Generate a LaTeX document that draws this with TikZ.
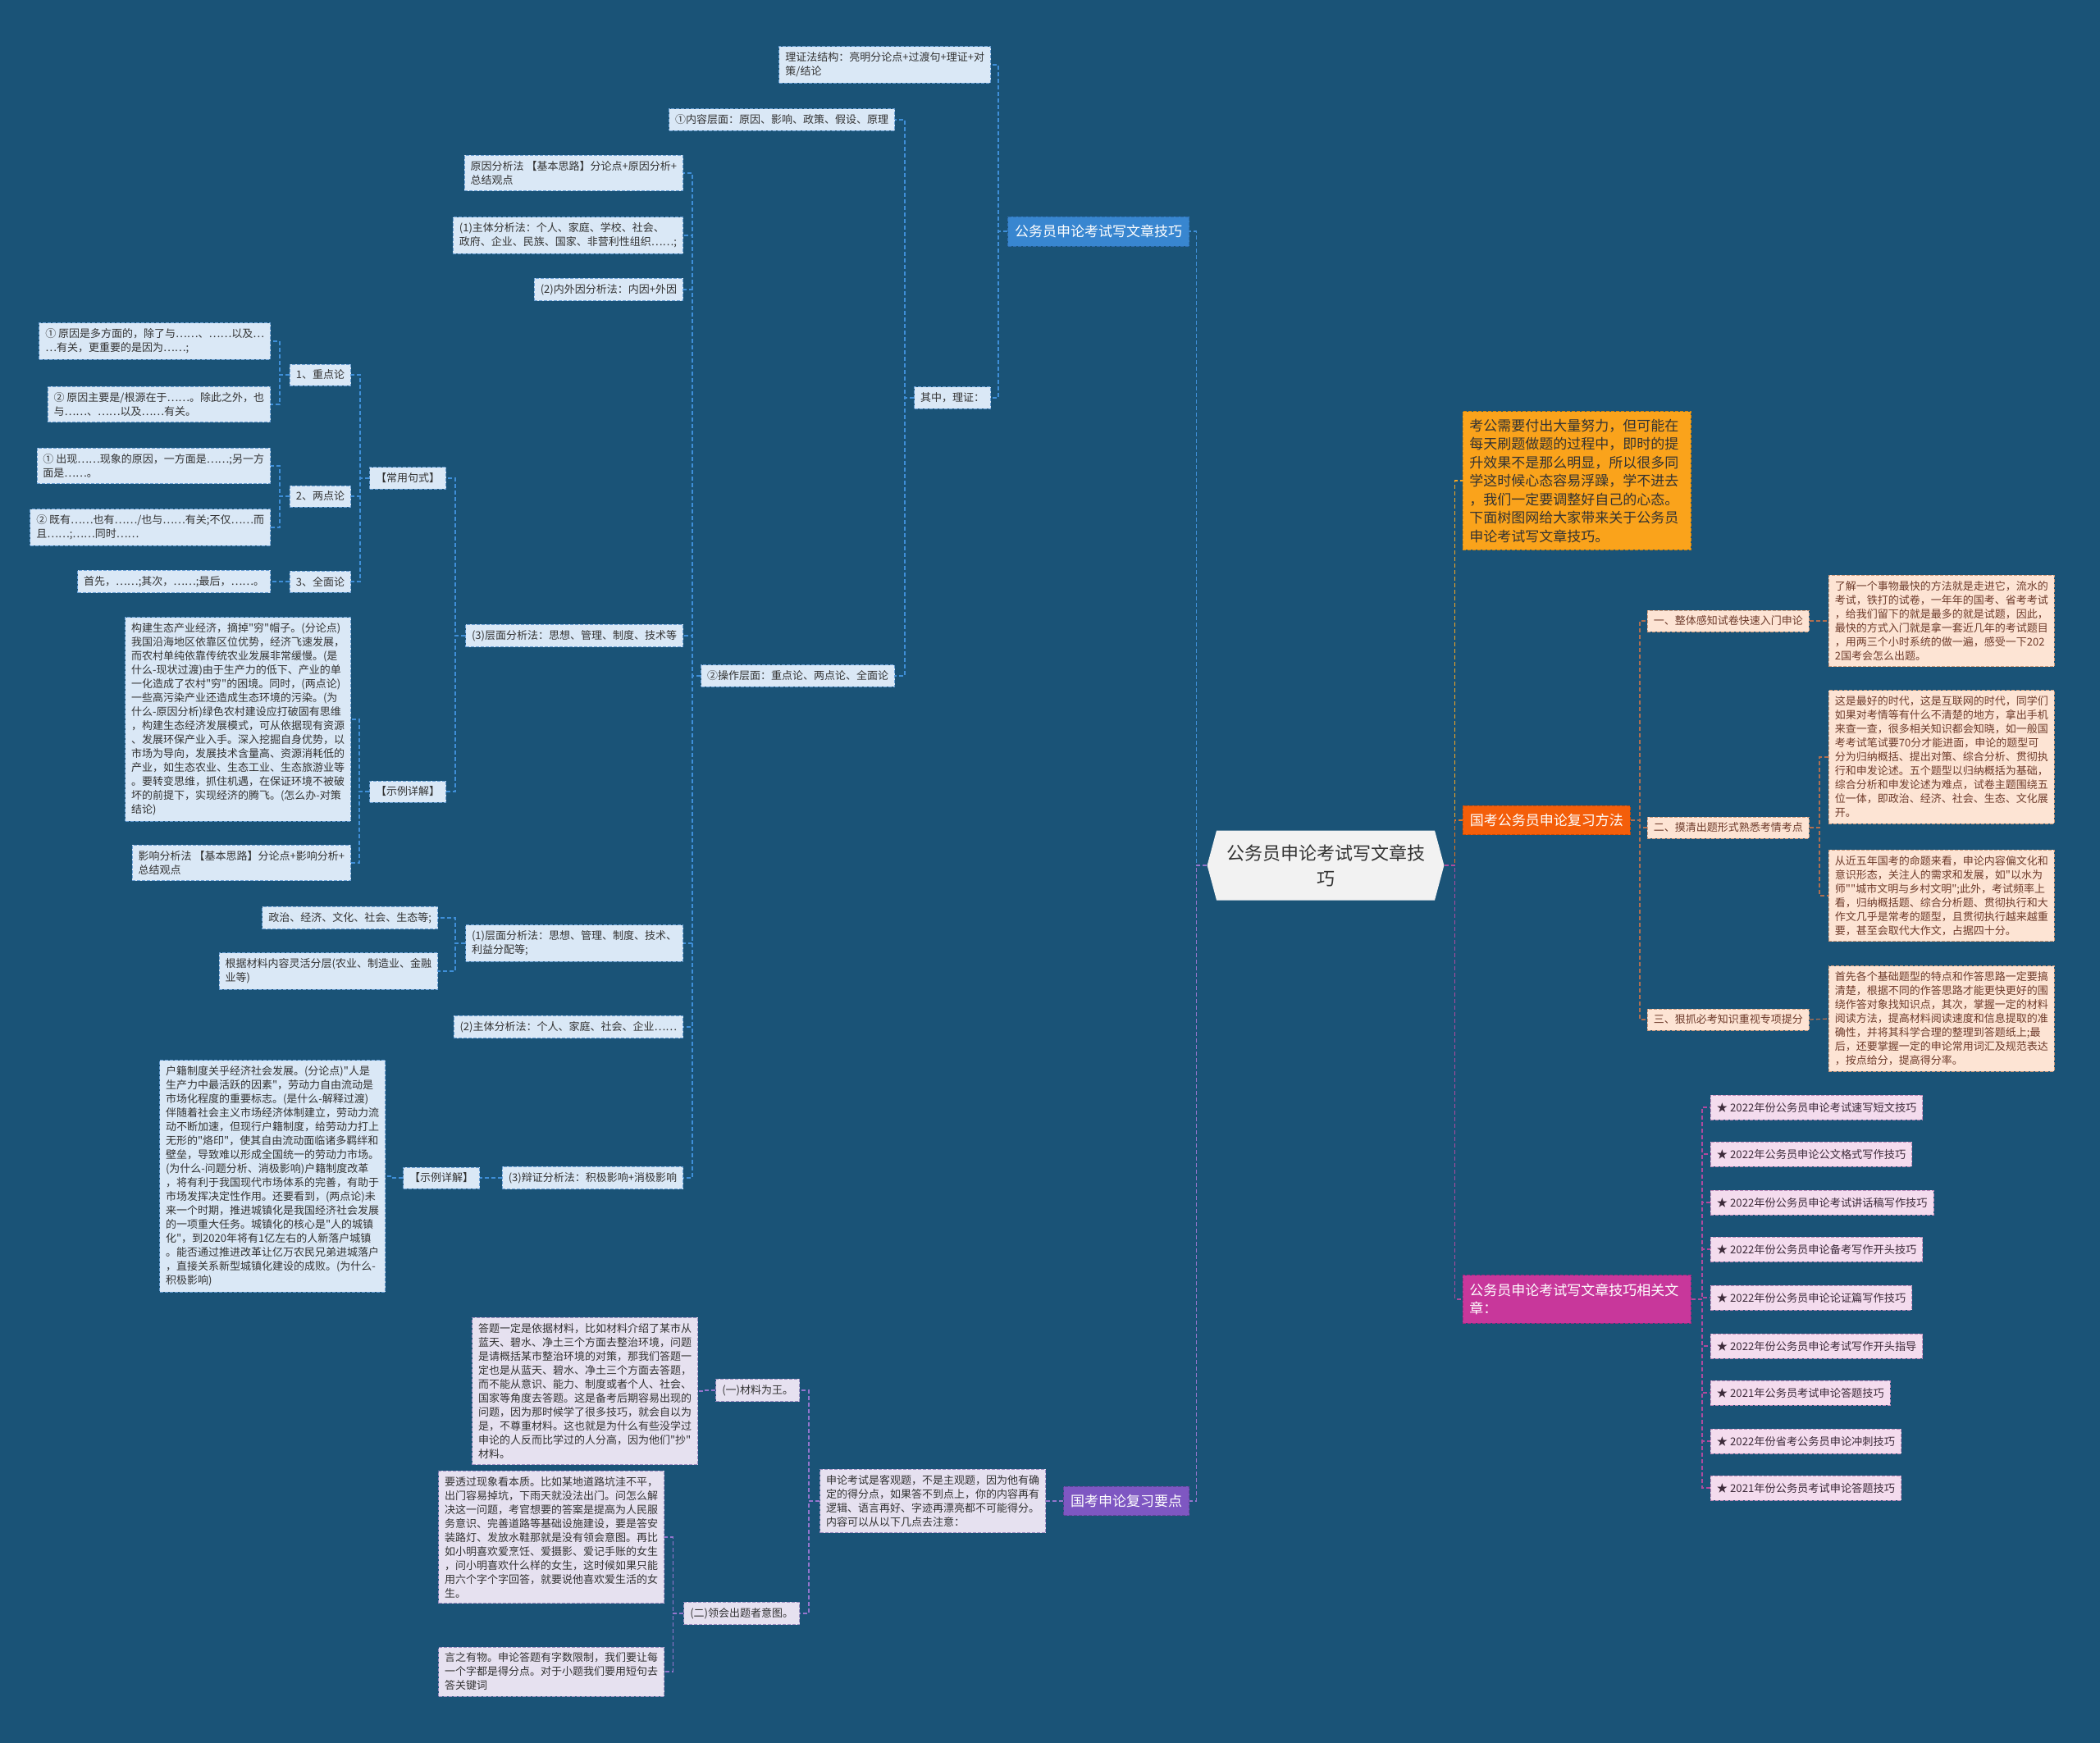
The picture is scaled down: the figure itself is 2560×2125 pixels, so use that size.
\documentclass[tikz,border=0pt]{standalone}
\usepackage{fontspec}
\setmainfont{Noto Sans CJK SC}[Ligatures=TeXOff]
\usetikzlibrary{shapes.symbols}
\definecolor{bgcol}{HTML}{1A5377}
\definecolor{lbFill}{HTML}{DAE8F6}
\definecolor{lbLine}{HTML}{6A9FD4}
\definecolor{txtDark}{HTML}{333333}
\definecolor{blueMain}{HTML}{3886D0}
\definecolor{blueMainLine}{HTML}{2E6DB0}
\definecolor{introFill}{HTML}{FAA31B}
\definecolor{introLine}{HTML}{D4860C}
\definecolor{orgFill}{HTML}{F45E0A}
\definecolor{orgLine}{HTML}{C84A05}
\definecolor{peachFill}{HTML}{FDE4D4}
\definecolor{peachLine}{HTML}{CF9A7A}
\definecolor{peachTxt}{HTML}{6E3B2B}
\definecolor{magFill}{HTML}{C8379B}
\definecolor{magLine}{HTML}{A02880}
\definecolor{pinkFill}{HTML}{F4DCEE}
\definecolor{pinkLine}{HTML}{C08AB8}
\definecolor{pinkTxt}{HTML}{3D2B3A}
\definecolor{purFill}{HTML}{7E57C2}
\definecolor{purLine}{HTML}{654499}
\definecolor{lavFill}{HTML}{E6E1F0}
\definecolor{lavLine}{HTML}{9C8CC0}
\definecolor{rootFill}{HTML}{F2F2F2}
\definecolor{lnBlue}{HTML}{3F8FD8}
\definecolor{lnYellow}{HTML}{F5A623}
\definecolor{lnOrange}{HTML}{E8741E}
\definecolor{lnBrown}{HTML}{B06E50}
\definecolor{lnMag}{HTML}{B04A9E}
\definecolor{lnPur}{HTML}{9575CD}
\begin{document}
\begin{tikzpicture}[x=1pt,y=-1pt,
  boxbase/.style={draw, dash pattern=on 4pt off 2pt, line width=0.9pt, align=left, inner xsep=7.5pt, inner ysep=7pt},
  lbox/.style={boxbase, fill=lbFill, draw=lbLine, text=txtDark, font=\fontsize{13}{17}\selectfont},
  pbox/.style={boxbase, fill=peachFill, draw=peachLine, text=peachTxt, font=\fontsize{13}{17}\selectfont},
  kbox/.style={boxbase, fill=pinkFill, draw=pinkLine, text=pinkTxt, font=\fontsize{13.2}{17}\selectfont, minimum height=30pt},
  vbox/.style={boxbase, fill=lavFill, draw=lavLine, text=txtDark, font=\fontsize{13}{17}\selectfont},
  bigbox/.style={boxbase, text=white, font=\fontsize{17}{22.5}\selectfont, inner xsep=8.5pt, inner ysep=10pt},
  rootnode/.style={shape=signal, signal to=west and east, signal pointer angle=150, fill=rootFill, text=txtDark, font=\fontsize{22}{31}\selectfont, align=center, minimum width=284pt, minimum height=85pt, inner xsep=12pt},
  conn/.style={dash pattern=on 5pt off 3pt, line width=1.3pt},
  cBlue/.style={conn, draw=lnBlue},
  cYellow/.style={conn, draw=lnYellow},
  cOrange/.style={conn, draw=lnOrange},
  cBrown/.style={conn, draw=lnBrown},
  cMag/.style={conn, draw=lnMag},
  cPur/.style={conn, draw=lnPur}
]
\fill[bgcol] (0,0) rectangle (2560,2125);
\useasboundingbox (0,0) rectangle (2560,2125);

% root
\node[rootnode] (root) at (1616,1055) {公务员申论考试写文章技\\巧};

% ===== left: blue branch =====
\node[bigbox, fill=blueMain, draw=blueMainLine, anchor=east] (blue) at (1450,282) {公务员申论考试写文章技巧};
\node[lbox, anchor=east] (lzjg) at (1208,79) {理证法结构：亮明分论点+过渡句+理证+对\\策/结论};
\node[lbox, anchor=east] (qz) at (1208,485) {其中，理证：};
\node[lbox, anchor=east] (nr) at (1091,146) {①内容层面：原因、影响、政策、假设、原理};
\node[lbox, anchor=east] (cz) at (1091,824) {②操作层面：重点论、两点论、全面论};
\node[lbox, anchor=east] (yyfx) at (833,211) {原因分析法 【基本思路】分论点+原因分析+\\总结观点};
\node[lbox, anchor=east] (zt1) at (833,287) {(1)主体分析法：个人、家庭、学校、社会、\\政府、企业、民族、国家、非营利性组织……;};
\node[lbox, anchor=east] (nwy) at (833,353) {(2)内外因分析法：内因+外因};
\node[lbox, anchor=east] (cm3) at (833,775) {(3)层面分析法：思想、管理、制度、技术等};
\node[lbox, anchor=east] (cm1) at (833,1150) {(1)层面分析法：思想、管理、制度、技术、\\利益分配等;};
\node[lbox, anchor=east] (zt2) at (833,1252) {(2)主体分析法：个人、家庭、社会、企业……};
\node[lbox, anchor=east] (bz) at (833,1436) {(3)辩证分析法：积极影响+消极影响};
\node[lbox, anchor=east] (cyjs) at (544,583) {【常用句式】};
\node[lbox, anchor=east] (sl1) at (544,965) {【示例详解】};
\node[lbox, anchor=east] (zd) at (428,457) {1、重点论};
\node[lbox, anchor=east] (ld) at (428,605) {2、两点论};
\node[lbox, anchor=east] (qm) at (428,709) {3、全面论};
\node[lbox, anchor=east] (zd1) at (330,416) {① 原因是多方面的，除了与……、……以及…\\…有关，更重要的是因为……;};
\node[lbox, anchor=east] (zd2) at (330,493) {② 原因主要是/根源在于……。除此之外，也\\与……、……以及……有关。};
\node[lbox, anchor=east] (ld1) at (330,568) {① 出现……现象的原因，一方面是……;另一方\\面是……。};
\node[lbox, anchor=east] (ld2) at (330,643) {② 既有……也有……/也与……有关;不仅……而\\且……;……同时……};
\node[lbox, anchor=east] (qm1) at (330,709) {首先，……;其次，……;最后，……。};
\node[lbox, anchor=east] (gj) at (428,877) {构建生态产业经济，摘掉"穷"帽子。(分论点)\\我国沿海地区依靠区位优势，经济飞速发展，\\而农村单纯依靠传统农业发展非常缓慢。(是\\什么-现状过渡)由于生产力的低下、产业的单\\一化造成了农村"穷"的困境。同时，(两点论)\\一些高污染产业还造成生态环境的污染。(为\\什么-原因分析)绿色农村建设应打破固有思维\\，构建生态经济发展模式，可从依据现有资源\\、发展环保产业入手。深入挖掘自身优势，以\\市场为导向，发展技术含量高、资源消耗低的\\产业，如生态农业、生态工业、生态旅游业等\\。要转变思维，抓住机遇，在保证环境不被破\\坏的前提下，实现经济的腾飞。(怎么办-对策\\结论)};
\node[lbox, anchor=east] (yx) at (428,1052) {影响分析法 【基本思路】分论点+影响分析+\\总结观点};
\node[lbox, anchor=east] (zz) at (534,1119) {政治、经济、文化、社会、生态等;};
\node[lbox, anchor=east] (gjcl) at (534,1184) {根据材料内容灵活分层(农业、制造业、金融\\业等)};
\node[lbox, anchor=east] (sl2) at (585,1436) {【示例详解】};
\node[lbox, anchor=east] (hj) at (470,1434) {户籍制度关乎经济社会发展。(分论点)"人是\\生产力中最活跃的因素"，劳动力自由流动是\\市场化程度的重要标志。(是什么-解释过渡)\\伴随着社会主义市场经济体制建立，劳动力流\\动不断加速，但现行户籍制度，给劳动力打上\\无形的"烙印"，使其自由流动面临诸多羁绊和\\壁垒，导致难以形成全国统一的劳动力市场。\\(为什么-问题分析、消极影响)户籍制度改革\\，将有利于我国现代市场体系的完善，有助于\\市场发挥决定性作用。还要看到，(两点论)未\\来一个时期，推进城镇化是我国经济社会发展\\的一项重大任务。城镇化的核心是"人的城镇\\化"，到2020年将有1亿左右的人新落户城镇\\。能否通过推进改革让亿万农民兄弟进城落户\\，直接关系新型城镇化建设的成败。(为什么-\\积极影响)};

% ===== left: purple branch =====
\node[bigbox, fill=purFill, draw=purLine, anchor=east] (pur) at (1450,1830) {国考申论复习要点};
\node[vbox, anchor=east] (sl) at (1275,1830) {申论考试是客观题，不是主观题，因为他有确\\定的得分点，如果答不到点上，你的内容再有\\逻辑、语言再好、字迹再漂亮都不可能得分。\\内容可以从以下几点去注意：};
\node[vbox, anchor=east] (c1) at (975,1695) {(一)材料为王。};
\node[vbox, anchor=east] (c2) at (975,1967) {(二)领会出题者意图。};
\node[vbox, anchor=east] (dt) at (851,1696) {答题一定是依据材料，比如材料介绍了某市从\\蓝天、碧水、净土三个方面去整治环境，问题\\是请概括某市整治环境的对策，那我们答题一\\定也是从蓝天、碧水、净土三个方面去答题，\\而不能从意识、能力、制度或者个人、社会、\\国家等角度去答题。这是备考后期容易出现的\\问题，因为那时候学了很多技巧，就会自以为\\是，不尊重材料。这也就是为什么有些没学过\\申论的人反而比学过的人分高，因为他们"抄"\\材料。};
\node[vbox, anchor=east] (ytg) at (810,1874) {要透过现象看本质。比如某地道路坑洼不平，\\出门容易掉坑，下雨天就没法出门。问怎么解\\决这一问题，考官想要的答案是提高为人民服\\务意识、完善道路等基础设施建设，要是答安\\装路灯、发放水鞋那就是没有领会意图。再比\\如小明喜欢爱烹饪、爱摄影、爱记手账的女生\\，问小明喜欢什么样的女生，这时候如果只能\\用六个字个字回答，就要说他喜欢爱生活的女\\生。};
\node[vbox, anchor=east] (yzyw) at (810,2038) {言之有物。申论答题有字数限制，我们要让每\\一个字都是得分点。对于小题我们要用短句去\\答关键词};

% ===== right side =====
\node[bigbox, fill=introFill, draw=introLine, text=txtDark, text width=262pt, inner xsep=8pt, inner ysep=9pt, anchor=west] (intro) at (1783,586) {考公需要付出大量努力，但可能在\\每天刷题做题的过程中，即时的提\\升效果不是那么明显，所以很多同\\学这时候心态容易浮躁，学不进去\\，我们一定要调整好自己的心态。\\下面树图网给大家带来关于公务员\\申论考试写文章技巧。};
\node[bigbox, fill=orgFill, draw=orgLine, anchor=west] (org) at (1783,1000) {国考公务员申论复习方法};
\node[pbox, anchor=west] (o1) at (2008,757) {一、整体感知试卷快速入门申论};
\node[pbox, anchor=west] (o2) at (2008,1009) {二、摸清出题形式熟悉考情考点};
\node[pbox, anchor=west] (o3) at (2008,1243) {三、狠抓必考知识重视专项提分};
\node[pbox, anchor=west] (o1t) at (2229,757) {了解一个事物最快的方法就是走进它，流水的\\考试，铁打的试卷，一年年的国考、省考考试\\，给我们留下的就是最多的就是试题，因此，\\最快的方式入门就是拿一套近几年的考试题目\\，用两三个小时系统的做一遍，感受一下202\\2国考会怎么出题。};
\node[pbox, anchor=west] (o2a) at (2229,923) {这是最好的时代，这是互联网的时代，同学们\\如果对考情等有什么不清楚的地方，拿出手机\\来查一查，很多相关知识都会知晓，如一般国\\考考试笔试要70分才能进面，申论的题型可\\分为归纳概括、提出对策、综合分析、贯彻执\\行和申发论述。五个题型以归纳概括为基础，\\综合分析和申发论述为难点，试卷主题围绕五\\位一体，即政治、经济、社会、生态、文化展\\开。};
\node[pbox, anchor=west] (o2b) at (2229,1092) {从近五年国考的命题来看，申论内容偏文化和\\意识形态，关注人的需求和发展，如"以水为\\师""城市文明与乡村文明";此外，考试频率上\\看，归纳概括题、综合分析题、贯彻执行和大\\作文几乎是常考的题型，且贯彻执行越来越重\\要，甚至会取代大作文，占据四十分。};
\node[pbox, anchor=west] (o3t) at (2229,1242) {首先各个基础题型的特点和作答思路一定要搞\\清楚，根据不同的作答思路才能更快更好的围\\绕作答对象找知识点，其次，掌握一定的材料\\阅读方法，提高材料阅读速度和信息提取的准\\确性，并将其科学合理的整理到答题纸上;最\\后，还要掌握一定的申论常用词汇及规范表达\\，按点给分，提高得分率。};
\node[bigbox, fill=magFill, draw=magLine, text width=262pt, inner xsep=8pt, anchor=west] (mag) at (1783,1584) {公务员申论考试写文章技巧相关文\\章：};
\node[kbox, anchor=west] (k1) at (2085,1350) {★ 2022年份公务员申论考试速写短文技巧};
\node[kbox, anchor=west] (k2) at (2085,1407) {★ 2022年公务员申论公文格式写作技巧};
\node[kbox, anchor=west] (k3) at (2085,1466) {★ 2022年份公务员申论考试讲话稿写作技巧};
\node[kbox, anchor=west] (k4) at (2085,1523) {★ 2022年份公务员申论备考写作开头技巧};
\node[kbox, anchor=west] (k5) at (2085,1582) {★ 2022年份公务员申论论证篇写作技巧};
\node[kbox, anchor=west] (k6) at (2085,1641) {★ 2022年份公务员申论考试写作开头指导};
\node[kbox, anchor=west] (k7) at (2085,1698) {★ 2021年公务员考试申论答题技巧};
\node[kbox, anchor=west] (k8) at (2085,1757) {★ 2022年份省考公务员申论冲刺技巧};
\node[kbox, anchor=west] (k9) at (2085,1814) {★ 2021年份公务员考试申论答题技巧};

% ===== connectors =====
\draw[cBlue] (root.west) -- ++(-13,0) |- (blue.east);
\draw[cPur] (root.west) -- ++(-13,0) |- (pur.east);
\draw[cYellow] (root.east) -- ++(13,0) |- (intro.west);
\draw[cOrange] (root.east) -- ++(13,0) |- (org.west);
\draw[cMag] (root.east) -- ++(13,0) |- (mag.west);

\foreach \c in {lzjg,qz} \draw[cBlue] (blue.west) -- ++(-11,0) |- (\c.east);
\foreach \c in {nr,cz} \draw[cBlue] (qz.west) -- ++(-11,0) |- (\c.east);
\foreach \c in {yyfx,zt1,nwy,cm3,cm1,zt2,bz} \draw[cBlue] (cz.west) -- ++(-10,0) |- (\c.east);
\foreach \c in {cyjs,sl1} \draw[cBlue] (cm3.west) -- ++(-12,0) |- (\c.east);
\foreach \c in {zd,ld,qm} \draw[cBlue] (cyjs.west) -- ++(-11,0) |- (\c.east);
\foreach \c in {zd1,zd2} \draw[cBlue] (zd.west) -- ++(-12,0) |- (\c.east);
\foreach \c in {ld1,ld2} \draw[cBlue] (ld.west) -- ++(-12,0) |- (\c.east);
\draw[cBlue] (qm.west) -- (qm1.east);
\foreach \c in {gj,yx} \draw[cBlue] (sl1.west) -- ++(-12,0) |- (\c.east);
\foreach \c in {zz,gjcl} \draw[cBlue] (cm1.west) -- ++(-12,0) |- (\c.east);
\draw[cBlue] (bz.west) -- (sl2.east);
\draw[cBlue] (sl2.west) -- ++(-12,0) |- (hj.east);

\draw[cPur] (pur.west) -- (sl.east);
\foreach \c in {c1,c2} \draw[cPur] (sl.west) -- ++(-13,0) |- (\c.east);
\draw[cPur] (c1.west) -- ++(-13,0) |- (dt.east);
\foreach \c in {ytg,yzyw} \draw[cPur] (c2.west) -- ++(-13,0) |- (\c.east);

\foreach \c in {o1,o2,o3} \draw[cBrown] (org.east) -- ++(11,0) |- (\c.west);
\draw[cBrown] (o1.east) -- (o1t.west);
\foreach \c in {o2a,o2b} \draw[cBrown] (o2.east) -- ++(12,0) |- (\c.west);
\draw[cBrown] (o3.east) -- (o3t.west);
\foreach \c in {k1,k2,k3,k4,k5,k6,k7,k8,k9} \draw[cMag] (mag.east) -- ++(13,0) |- (\c.west);
\end{tikzpicture}
\end{document}
